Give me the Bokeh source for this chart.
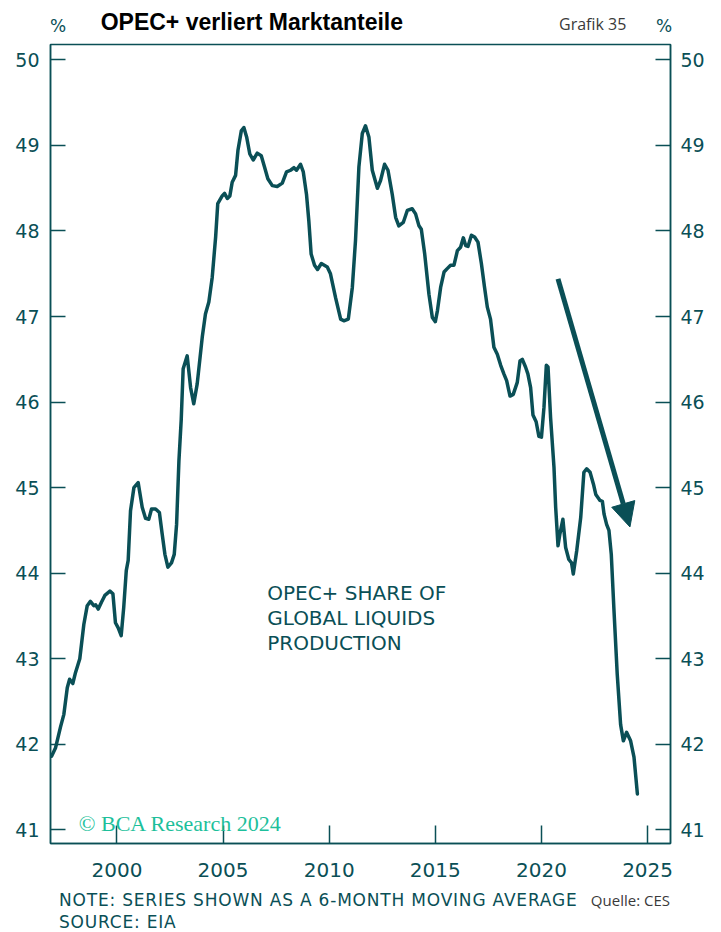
from bokeh.plotting import figure
from bokeh.models import Range1d, LinearAxis, FixedTicker, Label, Arrow, NormalHead, Div
from bokeh.layouts import column
from bokeh.embed import file_html
from bokeh.resources import INLINE

# ---- data (6-month moving average, OPEC+ share of global liquids production, %) ----
years = [
    1996.92, 1997.11, 1997.34, 1997.50, 1997.66, 1997.77, 1997.92, 1998.05, 1998.25, 1998.44,
    1998.60, 1998.75, 1998.91, 1999.00, 1999.12, 1999.27, 1999.43, 1999.67, 1999.81, 1999.93,
    2000.06, 2000.20, 2000.32, 2000.44, 2000.53, 2000.64, 2000.80, 2001.00, 2001.19, 2001.35,
    2001.50, 2001.63, 2001.82, 2002.00, 2002.13, 2002.26, 2002.40, 2002.57, 2002.70, 2002.81,
    2002.92, 2003.03, 2003.12, 2003.31, 2003.47, 2003.62, 2003.78, 2004.02, 2004.17, 2004.33,
    2004.49, 2004.65, 2004.75, 2004.96, 2005.07, 2005.20, 2005.32, 2005.43, 2005.59, 2005.70,
    2005.86, 2005.98, 2006.11, 2006.26, 2006.42, 2006.61, 2006.80, 2006.95, 2007.11, 2007.32,
    2007.55, 2007.79, 2007.99, 2008.18, 2008.34, 2008.46, 2008.65, 2008.78, 2008.93, 2009.04,
    2009.15, 2009.31, 2009.45, 2009.63, 2009.91, 2010.06, 2010.30, 2010.54, 2010.69, 2010.90,
    2011.09, 2011.24, 2011.40, 2011.56, 2011.71, 2011.87, 2012.03, 2012.27, 2012.42, 2012.61,
    2012.77, 2012.97, 2013.13, 2013.28, 2013.49, 2013.68, 2013.91, 2014.07, 2014.23, 2014.34,
    2014.50, 2014.70, 2014.86, 2015.00, 2015.10, 2015.25, 2015.41, 2015.56, 2015.72, 2015.88,
    2016.04, 2016.19, 2016.32, 2016.43, 2016.54, 2016.70, 2016.85, 2017.01, 2017.17, 2017.32,
    2017.45, 2017.60, 2017.76, 2017.92, 2018.08, 2018.23, 2018.36, 2018.52, 2018.67, 2018.86,
    2018.99, 2019.10, 2019.25, 2019.36, 2019.49, 2019.60, 2019.75, 2019.88, 2020.00, 2020.12,
    2020.23, 2020.31, 2020.43, 2020.59, 2020.67, 2020.78, 2020.87, 2021.01, 2021.14, 2021.29,
    2021.42, 2021.50, 2021.66, 2021.85, 2022.00, 2022.13, 2022.29, 2022.45, 2022.56, 2022.76,
    2022.87, 2022.95, 2023.07, 2023.18, 2023.29, 2023.41, 2023.57, 2023.73, 2023.86, 2024.01,
    2024.20, 2024.36, 2024.52,
]
share = [
    41.86, 41.96, 42.20, 42.35, 42.66, 42.76, 42.71, 42.84, 43.00, 43.40,
    43.62, 43.67, 43.62, 43.63, 43.58, 43.66, 43.74, 43.79, 43.76, 43.42,
    43.36, 43.27, 43.60, 44.03, 44.15, 44.73, 45.00, 45.06, 44.77, 44.64,
    44.63, 44.75, 44.75, 44.71, 44.46, 44.22, 44.07, 44.12, 44.22, 44.57,
    45.31, 45.80, 46.39, 46.54, 46.17, 45.98, 46.21, 46.76, 47.03, 47.17,
    47.46, 47.93, 48.32, 48.41, 48.44, 48.38, 48.41, 48.57, 48.65, 48.94,
    49.17, 49.21, 49.10, 48.90, 48.83, 48.91, 48.88, 48.75, 48.61, 48.53,
    48.52, 48.56, 48.69, 48.71, 48.74, 48.71, 48.78, 48.69, 48.43, 48.12,
    47.73, 47.60, 47.55, 47.62, 47.58, 47.50, 47.22, 46.97, 46.95, 46.97,
    47.34, 47.89, 48.75, 49.14, 49.23, 49.10, 48.71, 48.50, 48.59, 48.78,
    48.71, 48.43, 48.16, 48.06, 48.10, 48.24, 48.26, 48.20, 48.06, 48.02,
    47.73, 47.26, 46.99, 46.94, 47.07, 47.34, 47.52, 47.56, 47.60, 47.60,
    47.77, 47.81, 47.92, 47.83, 47.82, 47.95, 47.93, 47.87, 47.62, 47.34,
    47.11, 46.97, 46.64, 46.56, 46.43, 46.33, 46.25, 46.07, 46.09, 46.23,
    46.48, 46.50, 46.41, 46.33, 46.17, 45.85, 45.77, 45.60, 45.59, 45.94,
    46.43, 46.41, 45.82, 45.24, 44.77, 44.32, 44.46, 44.63, 44.30, 44.16,
    44.12, 43.99, 44.26, 44.65, 45.18, 45.22, 45.18, 45.04, 44.92, 44.85,
    44.84, 44.69, 44.57, 44.50, 44.22, 43.60, 42.82, 42.23, 42.04, 42.14,
    42.04, 41.85, 41.42,
]
x_ticks = [2000, 2005, 2010, 2015, 2020, 2025]
y_ticks = [41, 42, 43, 44, 45, 46, 47, 48, 49, 50]

# arrow annotation (start -> tip), data coordinates
arrow_start = (2020.78, 47.44)
arrow_end = (2024.17, 44.54)

TEAL = "#0a4f56"
GREEN = "#1dbf9b"
GREY = "#3a3a3a"
FONT = "DejaVu Sans"
W = 713

p = figure(width=W, height=847,
           x_range=Range1d(1996.87, 2026.08), y_range=Range1d(40.84, 50.18),
           output_backend="svg", toolbar_location=None,
           x_axis_location="below", y_axis_location="left")
p.min_border_left = 50
p.min_border_right = 43
p.min_border_top = 2
p.min_border_bottom = 46
p.margin = (0, 0, 0, 0)
p.grid.visible = False
p.outline_line_color = TEAL
p.outline_line_width = 1.5
p.background_fill_color = "white"
p.border_fill_color = "white"

right_axis = LinearAxis()
p.add_layout(right_axis, "right")


def style_axis(ax, ticks, tick_len, standoff, size):
    ax.ticker = FixedTicker(ticks=ticks)
    ax.major_tick_in = tick_len
    ax.major_tick_out = 0
    ax.minor_tick_in = 0
    ax.minor_tick_out = 0
    ax.major_tick_line_color = TEAL
    ax.major_tick_line_width = 1.5
    ax.axis_line_color = TEAL
    ax.axis_line_width = 1.5
    ax.major_label_text_font = FONT
    ax.major_label_text_font_size = size
    ax.major_label_text_color = TEAL
    ax.major_label_standoff = standoff


style_axis(p.xaxis[0], x_ticks, 18, 19, "20px")
style_axis(p.yaxis[0], y_ticks, 15, 11, "19px")
style_axis(right_axis, y_ticks, 15, 10, "19px")

p.line(years, share, line_color=TEAL, line_width=3.5, line_join="round", line_cap="round")

p.add_layout(Arrow(end=NormalHead(size=24, fill_color=TEAL, line_color=TEAL, line_width=1),
                   x_start=arrow_start[0], y_start=arrow_start[1],
                   x_end=arrow_end[0], y_end=arrow_end[1],
                   line_color=TEAL, line_width=5))


def scr_label(text, x, y, size, color=TEAL, font=FONT, style="normal", align="left"):
    p.add_layout(Label(x=x, y=y, x_units="screen", y_units="screen", text=text,
                       text_font=font, text_font_size=size, text_color=color,
                       text_font_style=style, text_align=align, text_baseline="alphabetic"))


# in-plot annotations (screen px relative to the plot frame)
scr_label("OPEC+ SHARE OF", 216.7, 250.3, "20px")
scr_label("GLOBAL LIQUIDS", 216.7, 225.3, "20px")
scr_label("PRODUCTION", 216.7, 200.3, "20px")
scr_label("© BCA Research 2024", 28.3, 20.3, "22px", color=GREEN, font="Liberation Serif")


def span(text, left, top, size, color=TEAL, font=FONT, weight="normal", right=None,
         spacing=0):
    pos = f"right:{right}px;" if right is not None else f"left:{left}px;"
    return (f'<span style="position:absolute;{pos}top:{top}px;font-family:\'{font}\';'
            f'font-size:{size}px;font-weight:{weight};color:{color};line-height:1;'
            f'letter-spacing:{spacing}px;white-space:nowrap;">{text}</span>')


header_html = (
    f'<div style="position:relative;width:{W}px;height:42px;margin:0;padding:0;">'
    + span("%", 50, 17.6, 17)
    + span("OPEC+ verliert Marktanteile", 100.7, 10.5, 23, color="black",
           font="Liberation Sans", weight="bold")
    + span("Grafik 35", 559, 15.8, 16, color=GREY, font="Open Sans")
    + span("%", 656, 17.6, 17)
    + '</div>'
)
footer_html = (
    f'<div style="position:relative;width:{W}px;height:43px;margin:0;padding:0;">'
    + span("NOTE: SERIES SHOWN AS A 6-MONTH MOVING AVERAGE", 59, 2.6, 17, spacing=0.8)
    + span("SOURCE: EIA", 59, 24.6, 17, spacing=0.8)
    + span("Quelle: CES", None, 3.7, 15, color=GREY, font="Open Sans", right=W - 670)
    + '</div>'
)

header = Div(text=header_html, width=W, height=42, margin=(0, 0, 0, 0))
footer = Div(text=footer_html, width=W, height=43, margin=(0, 0, 0, 0))

layout = column(header, p, footer, spacing=0, margin=(0, 0, 0, 0))

open("out.html", "w").write(file_html(layout, INLINE))
